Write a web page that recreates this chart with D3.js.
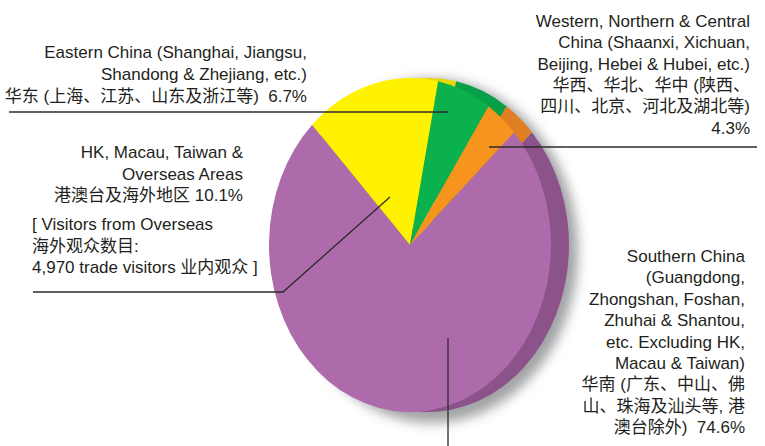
<!DOCTYPE html>
<html>
<head>
<meta charset="utf-8">
<script src="https://cdn.jsdelivr.net/npm/d3@7"></script>
<style>
  body { margin: 0; background: #fff; }
  text { font-family: "Liberation Sans", Arial, "Noto Sans CJK SC", sans-serif; font-size: 17px; fill: #231f20; white-space: pre; }
</style>
</head>
<body>
<div id="chart"></div>
<script>
// regions, in drawing order (clockwise from the orange/purple edge)
const regions = ["Southern China", "HK, Macau, Taiwan & Overseas", "Eastern China", "Western, Northern & Central China"];
// published percentages (as printed in the labels)
const percents = [74.6, 10.1, 6.7, 4.3];
// slice sizes as they are drawn in the source chart
const drawnShares = [74.6, 15.4, 6.2, 3.8];
const faceColors = ["#ad6bab", "#fff200", "#0bb14d", "#f7941d"];
const sideColors = ["#8b5389", "#e6d800", "#08a046", "#e07f22"];

const labelLines = [
  ["Southern China", "(Guangdong,", "Zhongshan, Foshan,", "Zhuhai & Shantou,", "etc. Excluding HK,", "Macau & Taiwan)", "华南 (广东、中山、佛", "山、珠海及汕头等, 港", "澳台除外)\u00a0\u00a0" + percents[0] + "%"],
  ["HK, Macau, Taiwan &", "Overseas Areas", "港澳台及海外地区 " + percents[1] + "%"],
  ["Eastern China (Shanghai, Jiangsu,", "Shandong & Zhejiang, etc.)", "华东 (上海、江苏、山东及浙江等)\u00a0\u00a0" + percents[2] + "%"],
  ["Western, Northern & Central", "China (Shaanxi, Xichuan,", "Beijing, Hebei & Hubei, etc.)", "华西、华北、华中 (陕西、", "四川、北京、河北及湖北等)", percents[3] + "%"]
];
const overseasNote = ["[ Visitors from Overseas", "海外观众数目:", "4,970 trade visitors 业内观众 ]"];

const width = 765, height = 446;
const cx = 410, cy = 245, rx = 141, ry = 167, depth = 18;

const svg = d3.select("#chart").append("svg")
  .attr("width", width)
  .attr("height", height);

const defs = svg.append("defs");
defs.append("filter")
  .attr("id", "soft")
  .attr("x", "-20%").attr("y", "-20%").attr("width", "140%").attr("height", "140%")
  .append("feGaussianBlur")
  .attr("stdDeviation", 6);

// drop shadow behind the disc
svg.append("ellipse")
  .attr("cx", cx + depth + 4)
  .attr("cy", cy + 6)
  .attr("rx", rx + 5)
  .attr("ry", ry + 5)
  .attr("fill", "#8a8c8e")
  .attr("opacity", 0.8)
  .attr("filter", "url(#soft)");

const startAngle = (47.5 * Math.PI) / 180;
const pie = d3.pie()
  .sort(null)
  .startAngle(startAngle)
  .endAngle(startAngle + 2 * Math.PI)
  .value((d) => d);
const arcs = pie(drawnShares);

const arc = d3.arc().innerRadius(0).outerRadius(ry);

// side of the disc (same pie shifted right, darker)
svg.append("g")
  .attr("transform", `translate(${cx + depth}, ${cy}) scale(${rx / ry}, 1)`)
  .selectAll("path")
  .data(arcs)
  .join("path")
  .attr("d", arc)
  .attr("fill", (d, i) => sideColors[i]);

// top face
svg.append("g")
  .attr("transform", `translate(${cx}, ${cy}) scale(${rx / ry}, 1)`)
  .selectAll("path")
  .data(arcs)
  .join("path")
  .attr("d", arc)
  .attr("fill", (d, i) => faceColors[i]);

// leader lines
const leaders = [
  [[448, 338], [448, 446]],
  [[390, 197], [283, 292], [33, 292]],
  [[448, 112], [9, 112]],
  [[489, 147], [757, 147]]
];
svg.append("g")
  .selectAll("path")
  .data(leaders)
  .join("path")
  .attr("d", d3.line())
  .attr("fill", "none")
  .attr("stroke", "#2b2b2b")
  .attr("stroke-width", 1.3);

// labels
const labelPos = [
  { x: 745, y: 262, lh: 21.4, anchor: "end" },
  { x: 243, y: 158, lh: 21.5, anchor: "end" },
  { x: 307, y: 58, lh: 22, anchor: "end" },
  { x: 750, y: 27, lh: 21.3, anchor: "end" }
];

const addBlock = function (lines, p) {
  const t = svg.append("text")
    .attr("text-anchor", p.anchor)
    .attr("x", p.x)
    .attr("y", p.y);
  t.selectAll("tspan")
    .data(lines)
    .join("tspan")
    .attr("x", p.x)
    .attr("y", (d, i) => p.y + i * p.lh)
    .text((d) => d);
};

labelLines.forEach((lines, i) => addBlock(lines, labelPos[i]));
addBlock(overseasNote, { x: 32, y: 230, lh: 21.5, anchor: "start" });
</script>
</body>
</html>
